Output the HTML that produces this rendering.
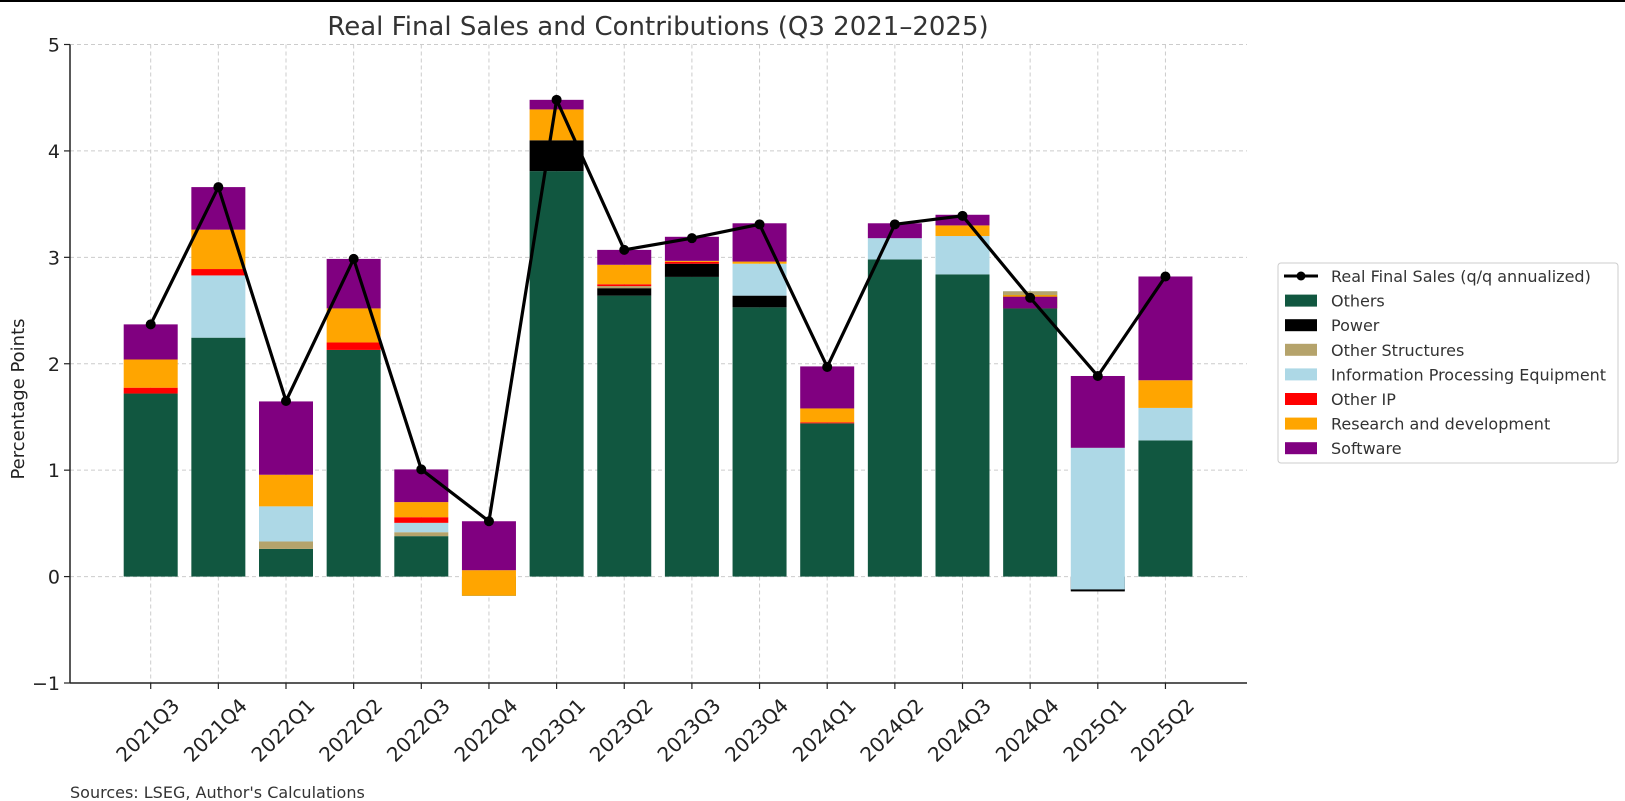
<!DOCTYPE html>
<html><head><meta charset="utf-8"><style>
body{margin:0;background:#fff;}
svg{display:block;font-family:"DejaVu Sans","Liberation Sans",sans-serif;}
</style></head><body>
<svg id="chart" width="1625" height="801" viewBox="0 0 1625 801" xmlns="http://www.w3.org/2000/svg">
<rect x="0" y="0" width="1625" height="2" fill="#000"/>
<text x="658" y="35" font-size="26" fill="#333" text-anchor="middle">Real Final Sales and Contributions (Q3 2021–2025)</text>
<text transform="translate(24,399) rotate(-90)" font-size="18" fill="#222" text-anchor="middle">Percentage Points</text>
<text x="70" y="798" font-size="16" fill="#333">Sources: LSEG, Author's Calculations</text>
<g id="grid"></g><g id="bars"></g><g id="line"></g><g id="axes"></g><g id="legend"></g>
</svg>
<script>
const categories=["2021Q3","2021Q4","2022Q1","2022Q2","2022Q3","2022Q4","2023Q1","2023Q2","2023Q3","2023Q4","2024Q1","2024Q2","2024Q3","2024Q4","2025Q1","2025Q2"];
const others=[1.72,2.245,0.26,2.13,0.38,-0.18,3.81,2.64,2.816,2.53,1.44,2.98,2.84,2.68,0,1.28];
const power=[0,0,0,0,0,0,0.29,0.07,0.124,0.11,0,0,0,0,-0.13,0];
const otherStructures=[0,0,0.07,0,0.037,0,0,0.02,0,0,0,0,0,-0.035,0,0];
const infoEquipment=[0,0.585,0.33,0,0.088,0,0,0,0,0.30,0,0.20,0.36,0,1.34,0.305];
const otherIP=[0.055,0.06,0,0.07,0.053,0,0,0.017,0.017,0,0.01,0,0,0,0,0];
const rnd=[0.265,0.37,0.297,0.32,0.142,0.24,0.29,0.183,0.01,0.02,0.13,0,0.10,-0.125,0,0.26];
const software=[0.33,0.40,0.689,0.465,0.307,0.46,0.09,0.14,0.226,0.36,0.395,0.14,0.10,0.11,0.675,0.975];
const realFinalSales=[2.37,3.66,1.65,2.985,1.007,0.52,4.48,3.07,3.18,3.31,1.97,3.31,3.39,2.62,1.885,2.82];
const yTicks=[-1,0,1,2,3,4,5];
const yTickLabels=["\u22121","0","1","2","3","4","5"];
const seriesNames=["Others","Power","Other Structures","Information Processing Equipment","Other IP","Research and development","Software"];
const seriesColors=["#115740","#000000","#b5a36b","#add8e6","#ff0000","#ffa500","#800080"];

const NS="http://www.w3.org/2000/svg";
const X0=70,X1=1247,Y_TOP=44.5,Y_BOT=683,YMIN=-1,YMAX=5;
const step=67.65, firstX=150.7, barW=54;
function xs(i){return firstX+i*step;}
function ys(v){return Y_BOT-(v-YMIN)/(YMAX-YMIN)*(Y_BOT-Y_TOP);}
function mk(tag,attrs,parent){const e=document.createElementNS(NS,tag);for(const k in attrs)e.setAttribute(k,attrs[k]);parent.appendChild(e);return e;}
const grid=document.getElementById('grid'),bars=document.getElementById('bars'),line=document.getElementById('line'),axes=document.getElementById('axes'),legend=document.getElementById('legend');

yTicks.forEach((t,i)=>{
  const g=mk('line',{x1:X0,x2:X1,y1:ys(t),y2:ys(t),stroke:'#ccc','stroke-dasharray':'4,3','stroke-width':1},grid);
  
  
  const tk=mk('line',{x1:X0-6,x2:X0,y1:ys(t),y2:ys(t),stroke:'#222','stroke-width':1.2},axes);
  
  
  const tx=mk('text',{x:X0-10,y:ys(t)+7,'font-size':19,fill:'#222','text-anchor':'end'},axes);
  tx.textContent=yTickLabels[i];
  
  
});
categories.forEach((c,i)=>{
  const g=mk('line',{x1:xs(i),x2:xs(i),y1:Y_TOP,y2:Y_BOT,stroke:'#ccc','stroke-dasharray':'4,3','stroke-width':1},grid);
  
  
  const tk=mk('line',{x1:xs(i),x2:xs(i),y1:Y_BOT,y2:Y_BOT+6,stroke:'#222','stroke-width':1.2},axes);
  
  
  const tx=mk('text',{x:0,y:0,'font-size':20,fill:'#222','text-anchor':'middle',transform:`translate(${xs(i)+2},735) rotate(-45)`},axes);
  tx.textContent=c;
  
  
});
const ax1=mk('line',{x1:X0,x2:X0,y1:Y_TOP,y2:Y_BOT,stroke:'#222','stroke-width':1.5},axes);


const ax2=mk('line',{x1:X0,x2:X1,y1:Y_BOT,y2:Y_BOT,stroke:'#222','stroke-width':1.5},axes);



const series=[others,power,otherStructures,infoEquipment,otherIP,rnd,software];
const bottoms=categories.map(()=>0);
series.forEach((s,si)=>{
  s.forEach((v,i)=>{
    if(v===0)return;
    const b=bottoms[i],t=b+v;
    const r=mk('rect',{x:xs(i)-barW/2,y:Math.min(ys(b),ys(t)),width:barW,height:Math.abs(ys(t)-ys(b)),fill:seriesColors[si]},bars);
    
    
    bottoms[i]=t;
  });
});
// negative power edges (visible outline in reference)
power.forEach((v,i)=>{
  if(v>=0)return;
  const e=mk('rect',{x:xs(i)-barW/2,y:ys(others[i]+v)-1,width:barW,height:2,fill:'#000'},bars);
  
  
});
const pl=mk('polyline',{points:realFinalSales.map((v,i)=>xs(i)+','+ys(v)).join(' '),fill:'none',stroke:'#000','stroke-width':3.2},line);


realFinalSales.forEach((v,i)=>{
  const c=mk('circle',{cx:xs(i),cy:ys(v),r:5,fill:'#000'},line);
  
  
});

const lb=mk('rect',{x:1278,y:263,width:340,height:200,rx:3,fill:'#fff',stroke:'#ccc'},legend);


const ly0=276,ldy=24.6;
const ll=mk('line',{x1:1284,x2:1318,y1:ly0,y2:ly0,stroke:'#000','stroke-width':3},legend);


const lc=mk('circle',{cx:1301,cy:ly0,r:4.5,fill:'#000'},legend);


const lt=mk('text',{x:1331,y:ly0+6,'font-size':16,fill:'#333'},legend);
lt.textContent='Real Final Sales (q/q annualized)';


seriesNames.forEach((n,i)=>{
  const y=ly0+ldy*(i+1);
  const p=mk('rect',{x:1285,y:y-6,width:32,height:12,fill:seriesColors[i]},legend);
  
  
  const t=mk('text',{x:1331,y:y+6,'font-size':16,fill:'#333'},legend);
  t.textContent=n;
  
  
});
</script>
</body></html>
